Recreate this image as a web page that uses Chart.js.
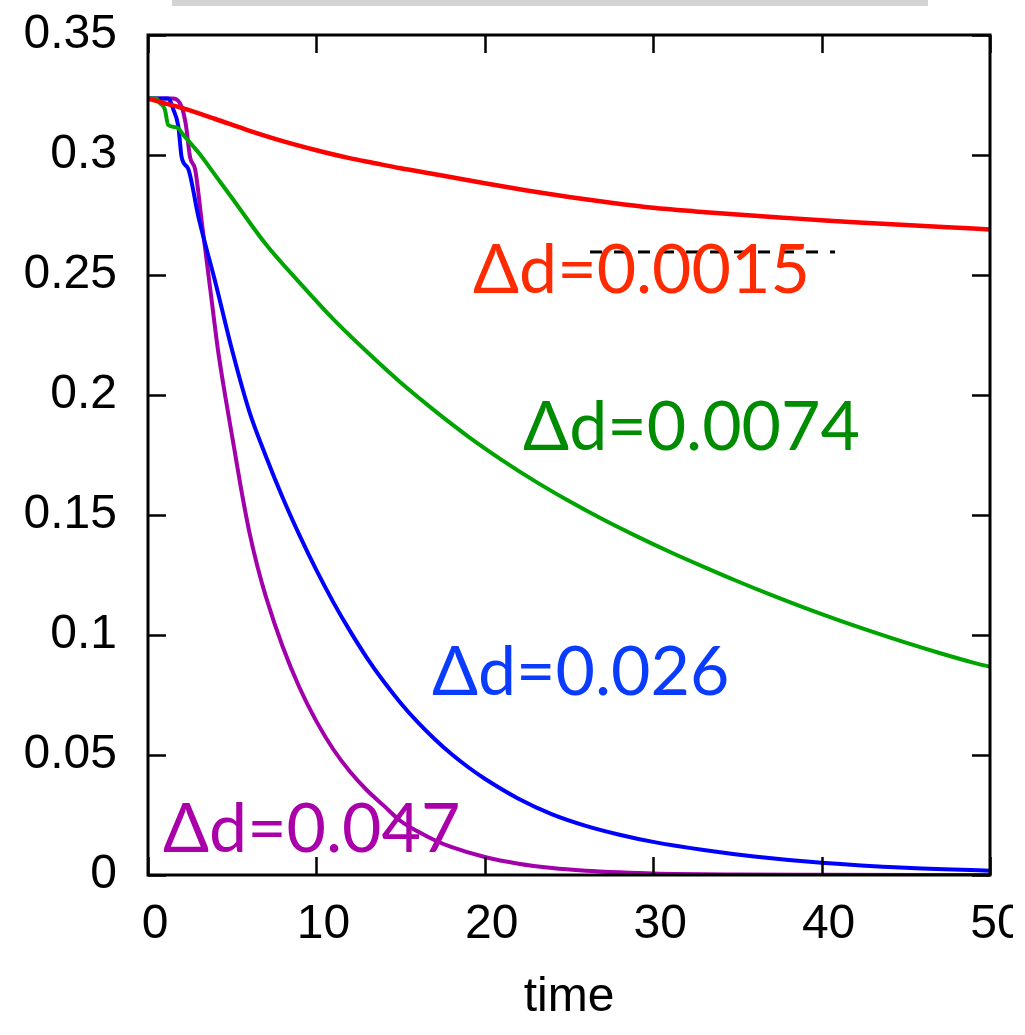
<!DOCTYPE html>
<html>
<head>
<meta charset="utf-8">
<script src="https://cdn.jsdelivr.net/npm/chart.js@4.4.1/dist/chart.umd.min.js"></script>
<style>
  html, body { margin: 0; padding: 0; background: #fff; }
  #wrap { position: relative; width: 1025px; height: 1035px; overflow: hidden; }
  #chart { position: absolute; left: 0; top: 0; }
  #topBar { position: absolute; left: 172px; top: 0; width: 756px; height: 6px; background: #d4d4d4; }
</style>
</head>
<body>
<div id="wrap">
  <canvas id="chart" width="1025" height="1035"></canvas>
  <div id="topBar"></div>
</div>
<script>
// decay of the order parameter for four values of Δd
const redT = [0, 1, 2, 4, 5.9, 8, 10, 11.9, 13.4, 15, 17.3, 20, 22.5, 25, 27.5, 30, 32.5, 35, 37.5, 40, 42.5, 45, 47.5, 50];
const redV = [0.3235, 0.3215, 0.3196, 0.315, 0.3104, 0.3058, 0.302, 0.2988, 0.2967, 0.2945, 0.2917, 0.2882, 0.2852, 0.2825, 0.2801, 0.278, 0.2765, 0.2752, 0.274, 0.2728, 0.2718, 0.2708, 0.2699, 0.269];

const greenT = [0, 0.5, 0.7, 1.0, 1.2, 1.7, 2.2, 3, 4, 5, 7, 9, 11, 13, 15, 17, 19, 21, 23, 25, 27, 29, 31, 33, 35, 37, 39, 41, 43, 45, 47, 49, 50];
const greenV = [0.3235, 0.3235, 0.3217, 0.319, 0.3125, 0.3115, 0.3075, 0.301, 0.2915, 0.282, 0.2628, 0.2468, 0.2316, 0.218, 0.2052, 0.1936, 0.1828, 0.173, 0.164, 0.1558, 0.1482, 0.1412, 0.1346, 0.1284, 0.1224, 0.1167, 0.1113, 0.1062, 0.1014, 0.0968, 0.0925, 0.0885, 0.0868];

const blueT = [0, 1.2, 1.5, 1.8, 2.0, 2.4, 3.0, 4.0, 5, 6, 7, 8, 9, 10, 11, 12, 13, 14, 15, 16, 17, 18, 19, 20, 22, 24, 26, 28, 30, 33, 36, 40, 45, 50];
const blueV = [0.3235, 0.3235, 0.319, 0.312, 0.299, 0.294, 0.274, 0.247, 0.2185, 0.1935, 0.1745, 0.1572, 0.1415, 0.127, 0.1137, 0.1016, 0.0905, 0.0806, 0.0717, 0.0638, 0.0568, 0.0505, 0.045, 0.0401, 0.0318, 0.0253, 0.0205, 0.0168, 0.0138, 0.0104, 0.0077, 0.0051, 0.003, 0.0018];

const purpleT = [0, 1.5, 2.0, 2.25, 2.5, 2.8, 3.2, 3.7, 4.15, 4.6, 5.15, 5.5, 6, 6.5, 7, 8, 9, 10, 11, 12, 13, 14, 15, 16, 17, 18, 20, 22, 24, 26, 28, 30, 35, 40, 50];
const purpleV = [0.3235, 0.3235, 0.320, 0.3125, 0.299, 0.294, 0.2717, 0.244, 0.219, 0.199, 0.1765, 0.162, 0.1435, 0.1285, 0.116, 0.0951, 0.078, 0.064, 0.0524, 0.043, 0.0353, 0.0289, 0.0225, 0.0182, 0.0146, 0.0117, 0.0075, 0.0047, 0.0029, 0.0018, 0.0011, 0.0006, 0.0002, 0.0001, 0];

// leftover key sample behind the first label
const keyT = [26.25, 40.8];
const keyV = [0.2596, 0.2596];

const xTicks = [0, 10, 20, 30, 40, 50];
const yTicks = [0, 0.05, 0.1, 0.15, 0.2, 0.25, 0.3, 0.35];
const yTickLabels = ['0', '0.05', '0.1', '0.15', '0.2', '0.25', '0.3', '0.35'];

// curve labels, anchored at (time, value) of the text baseline start
const curveLabels = ['Δd=0.0015', 'Δd=0.0074', 'Δd=0.026', 'Δd=0.047'];
const labelT = [19.3, 22.27, 16.86, 0.89];
const labelV = [0.2425, 0.1771, 0.075, 0.0096];
const labelColors = ['#ff2b00', '#008c00', '#0a3cff', '#aa00aa'];

const pts = (ts, vs) => ts.map((t, i) => ({ x: t, y: vs[i] }));

function curve(ts, vs, color, width) {
    return {
        data: pts(ts, vs),
        borderColor: color,
        borderWidth: width,
        pointRadius: 0,
        fill: false,
        cubicInterpolationMode: 'monotone'
    };
}

const frame = {
    id: 'frame',
    afterDatasetsDraw(chart) {
        const { ctx, chartArea: a, scales: { x, y } } = chart;
        ctx.save();
        ctx.font = '68px Lato';
        ctx.textAlign = 'left';
        ctx.textBaseline = 'alphabetic';
        curveLabels.forEach((txt, i) => {
            ctx.fillStyle = labelColors[i];
            ctx.fillText(txt, x.getPixelForValue(labelT[i]), y.getPixelForValue(labelV[i]));
        });

        // inward ticks on all four sides
        const len = 18;
        ctx.strokeStyle = '#000';
        ctx.lineWidth = 2.5;
        ctx.beginPath();
        x.ticks.forEach(t => {
            const px = Math.round(x.getPixelForValue(t.value)) + 0.5;
            ctx.moveTo(px, a.bottom); ctx.lineTo(px, a.bottom - len);
            ctx.moveTo(px, a.top); ctx.lineTo(px, a.top + len);
        });
        y.ticks.forEach(t => {
            const py = Math.round(y.getPixelForValue(t.value)) + 0.5;
            ctx.moveTo(a.left, py); ctx.lineTo(a.left + len, py);
            ctx.moveTo(a.right, py); ctx.lineTo(a.right - len, py);
        });
        ctx.stroke();
        ctx.lineWidth = 3;
        ctx.strokeRect(a.left, a.top, a.right - a.left, a.bottom - a.top);
        ctx.restore();
    },
    afterDraw(chart) {
        // page edge cuts the last tick label
        const { ctx } = chart;
        ctx.save();
        ctx.fillStyle = '#fff';
        ctx.fillRect(1013, 0, chart.width - 1013, chart.height);
        ctx.restore();
    }
};

const tickFont = { family: 'Liberation Sans', size: 48 };

new Chart(document.getElementById('chart'), {
    type: 'line',
    data: {
        datasets: [
            { data: pts(keyT, keyV), borderColor: '#000', borderWidth: 3, borderDash: [12, 12], pointRadius: 0, fill: false },
            curve(redT, redV, '#ff0000', 4.5),
            curve(greenT, greenV, '#00a400', 4),
            curve(blueT, blueV, '#0000ff', 4),
            curve(purpleT, purpleV, '#a200aa', 4)
        ]
    },
    options: {
        responsive: false,
        animation: false,
        devicePixelRatio: 1,
        layout: { padding: { left: 0, top: 35, right: 35, bottom: 0 } },
        plugins: { legend: { display: false }, tooltip: { enabled: false } },
        scales: {
            x: {
                type: 'linear',
                min: 0, max: 50,
                afterBuildTicks: s => { s.ticks = xTicks.map(v => ({ value: v })); },
                afterFit: s => { s.height = 160; },
                grid: { display: false, drawTicks: true, tickLength: 21 },
                border: { display: false },
                ticks: { font: tickFont, color: '#000', padding: 0, labelOffset: 7, maxRotation: 0, callback: v => String(v) },
                title: { display: true, text: 'time', font: tickFont, color: '#000', padding: { top: 0, bottom: 8 } }
            },
            y: {
                type: 'linear',
                min: 0, max: 0.35,
                afterBuildTicks: s => { s.ticks = yTicks.map(v => ({ value: v })); },
                afterFit: s => { s.width = 148; },
                grid: { display: false, drawTicks: true, tickLength: 31 },
                border: { display: false },
                ticks: { font: tickFont, color: '#000', padding: 0, callback: (v, i) => yTickLabels[i] }
            }
        }
    },
    plugins: [frame]
});
</script>
</body>
</html>
